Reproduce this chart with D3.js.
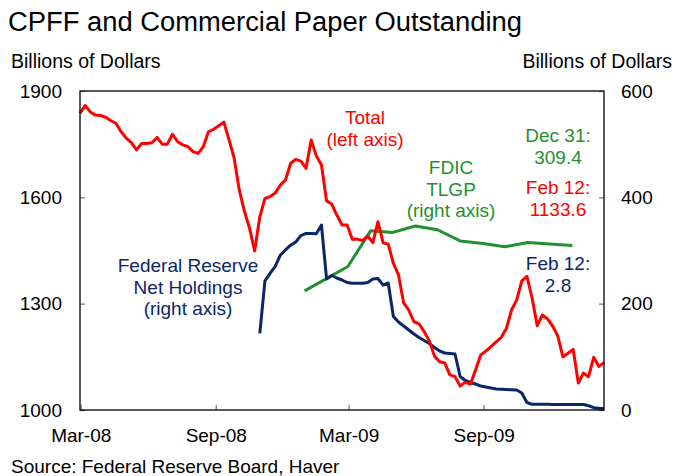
<!DOCTYPE html>
<html>
<head>
<meta charset="utf-8">
<script src="https://cdn.jsdelivr.net/npm/d3@7"></script>
<style>
  body { margin: 0; background: #fff; }
  svg text { font-family: "Liberation Sans", Arial, sans-serif; }
</style>
</head>
<body>
<script>
// chart size and plot box
const w = 675;
const h = 476;
const plot = {left: 80, right: 604, top: 91, bottom: 410};

// total commercial paper outstanding, weekly (left axis)
const totalStart = "2008-02-29";
const totalValues = [
  1837, 1859, 1841, 1832, 1831, 1826, 1816, 1809, 1785, 1767,
  1754, 1734, 1752, 1752, 1754, 1769, 1750, 1750, 1778, 1757,
  1748, 1743, 1729, 1724, 1743, 1785, 1792, 1802, 1812, 1763,
  1711, 1621, 1561, 1513, 1449, 1545, 1597, 1602, 1612, 1635,
  1649, 1696, 1707, 1702, 1682, 1762, 1717, 1691, 1590, 1581,
  1550, 1522, 1522, 1482, 1482, 1478, 1491, 1472, 1531, 1472,
  1468, 1414, 1381, 1302, 1282, 1249, 1243, 1221, 1195, 1152,
  1136, 1133, 1099, 1094, 1068, 1078, 1073, 1113, 1155, 1166,
  1179, 1192, 1205, 1230, 1282, 1310, 1364, 1377, 1316, 1238,
  1268, 1257, 1237, 1209, 1150, 1160, 1171, 1076, 1104, 1094,
  1149, 1123, 1133.6
];

// federal reserve net CPFF holdings, weekly (right axis)
const cpffStart = "2008-10-31";
const cpffValues = [
  144, 243, 257, 270, 291.5, 301, 310, 316, 328, 332,
  332, 331.6, 348, 246.4, 253, 248.3, 244.5, 239.8, 238.3, 238.3,
  238.3, 239.8, 246.4, 247.4, 235, 238.9, 175.9, 165.5, 158, 150.5,
  143, 136.4, 130.7, 125, 117.6, 111, 107.2, 106.3, 105.3, 63,
  55.5, 51.7, 48.9, 45.1, 43.3, 41.4, 39.5, 38.9, 38.4, 38,
  37.6, 32, 14.1, 10.7, 10.7, 10.6, 10.6, 10.5, 10.5, 10.4,
  10.4, 10.3, 10.3, 10.2, 8.1, 4.3, 3.2, 2.8
];

// FDIC TLGP debt, month end (right axis)
const tlgpDates = ["2008-12-31", "2009-01-31", "2009-02-28", "2009-03-31", "2009-04-30",
  "2009-05-31", "2009-06-30", "2009-07-31", "2009-08-31", "2009-09-30",
  "2009-10-31", "2009-11-30", "2009-12-31"];
const tlgpValues = [224, 248, 270, 337, 334, 346, 339, 318, 313, 307, 315, 312, 309.4];

// axis ticks
const xTicks = ["2008-03-01", "2008-09-01", "2009-03-01", "2009-09-01"];
const leftTicks = [1000, 1300, 1600, 1900];
const rightTicks = [0, 200, 400, 600];

const red = "#ff0000";
const navy = "#0a2669";
const green = "#23902f";

const parse = d3.timeParse("%Y-%m-%d");

// weekly dates for the two weekly series
const weekly = (start, vals) => vals.map((v, i) => ({date: d3.timeDay.offset(parse(start), 7 * i), v: v}));
const total = weekly(totalStart, totalValues);
const cpff = weekly(cpffStart, cpffValues);
const tlgp = tlgpDates.map((d, i) => ({date: parse(d), v: tlgpValues[i]}));

const svg = d3.select("body")
  .append("svg")
  .attr("width", w)
  .attr("height", h);

const x = d3.scaleTime()
  .domain([parse("2008-02-29"), parse("2010-02-12")])
  .range([plot.left, plot.right]);
const yL = d3.scaleLinear().domain([1000, 1900]).range([plot.bottom, plot.top]);
const yR = d3.scaleLinear().domain([0, 600]).range([plot.bottom, plot.top]);

// title and unit labels
svg.append("text")
  .attr("x", 8).attr("y", 31)
  .attr("font-size", 27)
  .attr("textLength", 514)
  .attr("lengthAdjust", "spacingAndGlyphs")
  .text("CPFF and Commercial Paper Outstanding");
svg.append("text")
  .attr("x", 11).attr("y", 68)
  .attr("font-size", 19.5)
  .text("Billions of Dollars");
svg.append("text")
  .attr("x", 672).attr("y", 68)
  .attr("font-size", 19.5)
  .attr("text-anchor", "end")
  .text("Billions of Dollars");

// axes, ticks pointing into the plot
const xAxis = d3.axisBottom(x)
  .tickValues(xTicks.map(parse))
  .tickFormat(d3.timeFormat("%b-%y"))
  .tickSizeInner(-5).tickSizeOuter(0).tickPadding(19);
const leftAxis = d3.axisLeft(yL).tickValues(leftTicks)
  .tickFormat(d3.format("d"))
  .tickSizeInner(-5).tickSizeOuter(0).tickPadding(18);
const rightAxis = d3.axisRight(yR).tickValues(rightTicks)
  .tickFormat(d3.format("d"))
  .tickSizeInner(-5).tickSizeOuter(0).tickPadding(17);

svg.append("g").attr("transform", "translate(0," + plot.bottom + ")").call(xAxis);
svg.append("g").attr("transform", "translate(" + plot.left + ",0)").call(leftAxis);
svg.append("g").attr("transform", "translate(" + plot.right + ",0)").call(rightAxis);

svg.selectAll(".domain").remove();
svg.selectAll(".tick line").attr("stroke", "#808080").attr("stroke-width", 1.3);
svg.selectAll(".tick text")
  .attr("font-size", 19)
  .attr("font-family", "Liberation Sans, Arial, sans-serif")
  .attr("fill", "#000");

// lines
const lineL = d3.line().x(d => x(d.date)).y(d => yL(d.v));
const lineR = d3.line().x(d => x(d.date)).y(d => yR(d.v));

svg.append("path").datum(tlgp)
  .attr("d", lineR).attr("fill", "none")
  .attr("stroke", green).attr("stroke-width", 3).attr("stroke-linejoin", "round");
svg.append("path").datum(cpff)
  .attr("d", lineR).attr("fill", "none")
  .attr("stroke", navy).attr("stroke-width", 3).attr("stroke-linejoin", "round");
svg.append("path").datum(total)
  .attr("d", lineL).attr("fill", "none")
  .attr("stroke", red).attr("stroke-width", 3).attr("stroke-linejoin", "round");

// plot frame
svg.append("rect")
  .attr("x", plot.left).attr("y", plot.top)
  .attr("width", plot.right - plot.left)
  .attr("height", plot.bottom - plot.top)
  .attr("fill", "none")
  .attr("stroke", "#000")
  .attr("stroke-width", 1.3);

// annotations
function note(lines, cx, y0, color) {
  const t = svg.append("text")
    .attr("text-anchor", "middle")
    .attr("font-size", 19)
    .attr("fill", color);
  lines.forEach((s, i) => {
    t.append("tspan").attr("x", cx).attr("y", y0 + i * 21.7).text(s);
  });
}
note(["Total", "(left axis)"], 365, 124, red);
note(["FDIC", "TLGP", "(right axis)"], 451, 174, green);
note(["Dec 31:", "309.4"], 558, 142, green);
note(["Feb 12:", "1133.6"], 558, 194, red);
note(["Feb 12:", "2.8"], 558, 270, navy);
note(["Federal Reserve", "Net Holdings", "(right axis)"], 188, 272, navy);

// source
svg.append("text")
  .attr("x", 11).attr("y", 473)
  .attr("font-size", 19)
  .text("Source: Federal Reserve Board, Haver");
</script>
</body>
</html>
